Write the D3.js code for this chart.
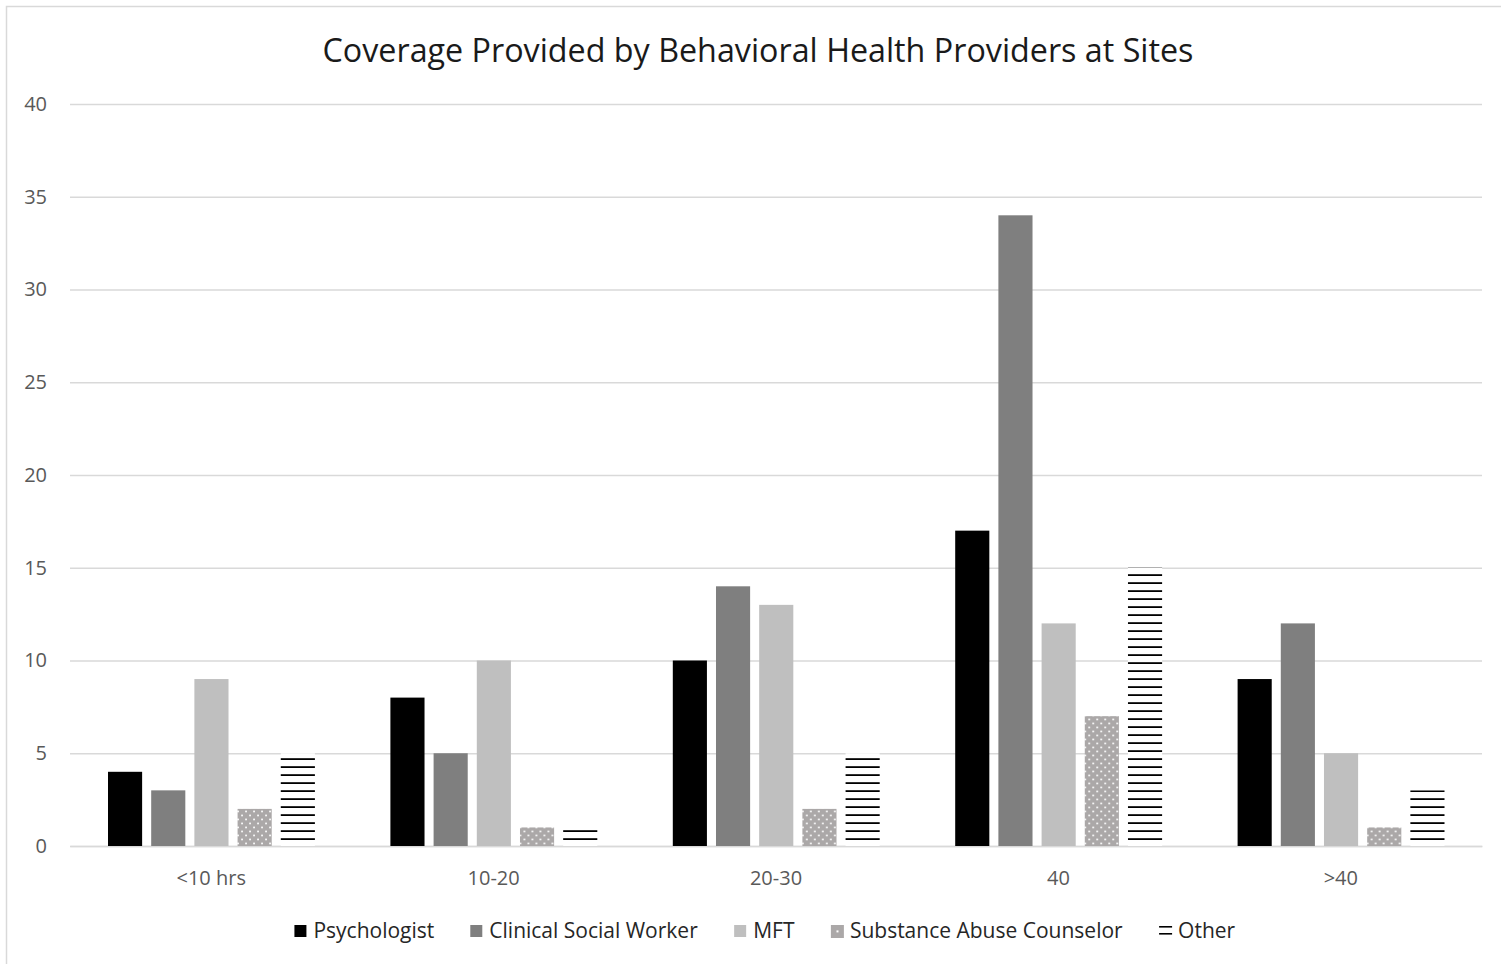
<!DOCTYPE html>
<html>
<head>
<meta charset="utf-8">
<script src="https://cdn.jsdelivr.net/npm/d3@7/dist/d3.min.js"></script>
<style>
  html, body { margin: 0; padding: 0; background: #fff; }
  svg { display: block; font-family: "Open Sans", "Noto Sans", sans-serif; }
</style>
</head>
<body>
<svg id="chart" width="1501" height="964"></svg>
<script>
// Hours of coverage per site, by provider type
const categories = ["<10 hrs", "10-20", "20-30", "40", ">40"];
const seriesNames = ["Psychologist", "Clinical Social Worker", "MFT", "Substance Abuse Counselor", "Other"];
const psychologist = [4, 8, 10, 17, 9];
const clinicalSocialWorker = [3, 5, 14, 34, 12];
const mft = [9, 10, 13, 12, 5];
const substanceAbuseCounselor = [2, 1, 2, 7, 1];
const other = [5, 1, 5, 15, 3];
const yTicks = [0, 5, 10, 15, 20, 25, 30, 35, 40];
const titleText = "Coverage Provided by Behavioral Health Providers at Sites";

const seriesValues = [psychologist, clinicalSocialWorker, mft, substanceAbuseCounselor, other];
const fills = ["#000000", "#7f7f7f", "#bfbfbf", "url(#dots)", "url(#stripes)"];

const svg = d3.select("#chart");

// Chart frame
svg.append("rect")
  .attr("x", 6.5).attr("y", 6.5)
  .attr("width", 1520).attr("height", 1000)
  .attr("fill", "#fff")
  .attr("stroke", "#d9d9d9").attr("stroke-width", 1.5);

// Fill patterns
const defs = svg.append("defs");
const dots = defs.append("pattern")
  .attr("id", "dots").attr("patternUnits", "userSpaceOnUse")
  .attr("x", 1).attr("y", 1).attr("width", 8).attr("height", 8);
dots.append("rect").attr("width", 8).attr("height", 8).attr("fill", "#aba8a8");
dots.append("rect").attr("x", 6.2).attr("y", 1.6).attr("width", 1.7).attr("height", 1.7).attr("fill", "#fff");
dots.append("rect").attr("x", 2.2).attr("y", 5.6).attr("width", 1.7).attr("height", 1.7).attr("fill", "#fff");

const stripes = defs.append("pattern")
  .attr("id", "stripes").attr("patternUnits", "userSpaceOnUse")
  .attr("width", 8).attr("height", 8);
stripes.append("rect").attr("width", 8).attr("height", 8).attr("fill", "#fff");
stripes.append("rect").attr("x", 0).attr("y", 6.2).attr("width", 8).attr("height", 1.8).attr("fill", "#000");

// Scales
const plotLeft = 70, plotRight = 1482, plotTop = 104, plotBottom = 846;
const x0 = d3.scaleBand().domain(categories).range([plotLeft, plotRight]).padding(0);
const x1 = d3.scaleBand().domain(seriesNames)
  .range([38, x0.bandwidth() - 37.5]).paddingInner(0.21).paddingOuter(0);
const y = d3.scaleLinear().domain([0, 40]).range([plotBottom, plotTop]);

// Title, sized to span its measured width
function fitText(sel, target) {
  const w = sel.node().getComputedTextLength();
  const fs = parseFloat(sel.attr("font-size"));
  sel.attr("font-size", (fs * target / w).toFixed(2));
}
const title = svg.append("text")
  .attr("x", 758).attr("y", 62)
  .attr("text-anchor", "middle")
  .attr("font-size", 30)
  .attr("fill", "#1a1a1a")
  .text(titleText);
fitText(title, 871);

// Value axis with gridlines
const yAxis = d3.axisLeft(y).tickValues(yTicks).tickSize(-(plotRight - plotLeft)).tickPadding(23);
const gy = svg.append("g").attr("transform", `translate(${plotLeft},0)`).call(yAxis);
gy.select(".domain").remove();
gy.selectAll(".tick line").attr("stroke", "#d9d9d9").attr("stroke-width", 1.3);
gy.selectAll(".tick text")
  .attr("font-size", 20).attr("fill", "#595959")
  .attr("font-family", "'Open Sans', sans-serif");

// Category axis
const xAxis = d3.axisBottom(x0).tickSize(0).tickPadding(25);
const gx = svg.append("g").attr("transform", `translate(0,${plotBottom})`).call(xAxis);
gx.select(".domain").attr("stroke", "#d9d9d9").attr("stroke-width", 1.6);
gx.selectAll(".tick text")
  .attr("font-size", 20).attr("fill", "#595959")
  .attr("font-family", "'Open Sans', sans-serif");

// Bars
const rows = categories.map((c, i) => ({
  category: c,
  values: seriesNames.map((s, k) => ({ series: s, k, value: seriesValues[k][i] }))
}));

const groups = svg.append("g").selectAll("g")
  .data(rows).join("g")
  .attr("transform", d => `translate(${x0(d.category)},0)`);

groups.selectAll("rect")
  .data(d => d.values)
  .join("rect")
  .attr("x", d => x1(d.series))
  .attr("y", d => y(d.value))
  .attr("width", x1.bandwidth())
  .attr("height", d => y(0) - y(d.value))
  .attr("fill", d => fills[d.k]);

// Legend
const legend = svg.append("g").attr("transform", "translate(0,931)");
const items = legend.selectAll("g").data(seriesNames).join("g");
items.each(function(name, k) {
  const g = d3.select(this);
  if (k === 4) {
    g.append("rect").attr("x", 0).attr("y", -5).attr("width", 13).attr("height", 1.6).attr("fill", "#000");
    g.append("rect").attr("x", 0).attr("y", 2).attr("width", 13).attr("height", 1.6).attr("fill", "#000");
  } else if (k === 3) {
    g.append("rect").attr("x", 0).attr("y", -6).attr("width", 13).attr("height", 13).attr("fill", "#aba8a8");
    g.append("rect").attr("x", 5.6).attr("y", -0.6).attr("width", 2).attr("height", 2).attr("fill", "#fff");
  } else {
    g.append("rect").attr("x", 0).attr("y", -6).attr("width", 12).attr("height", 12).attr("fill", fills[k]);
  }
  g.append("text")
    .attr("x", 19).attr("y", 7)
    .attr("font-size", 21).attr("fill", "#262626")
    .text(name);
});
// Lay out legend entries in a row, centred under the plot
const gap = 36;
const widths = [];
items.each(function() { widths.push(this.getBBox().width); });
const total = d3.sum(widths) + gap * (widths.length - 1);
let cursor = 765 - total / 2;
items.each(function(d, k) {
  d3.select(this).attr("transform", `translate(${cursor},0)`);
  cursor += widths[k] + gap;
});
</script>
</body>
</html>
